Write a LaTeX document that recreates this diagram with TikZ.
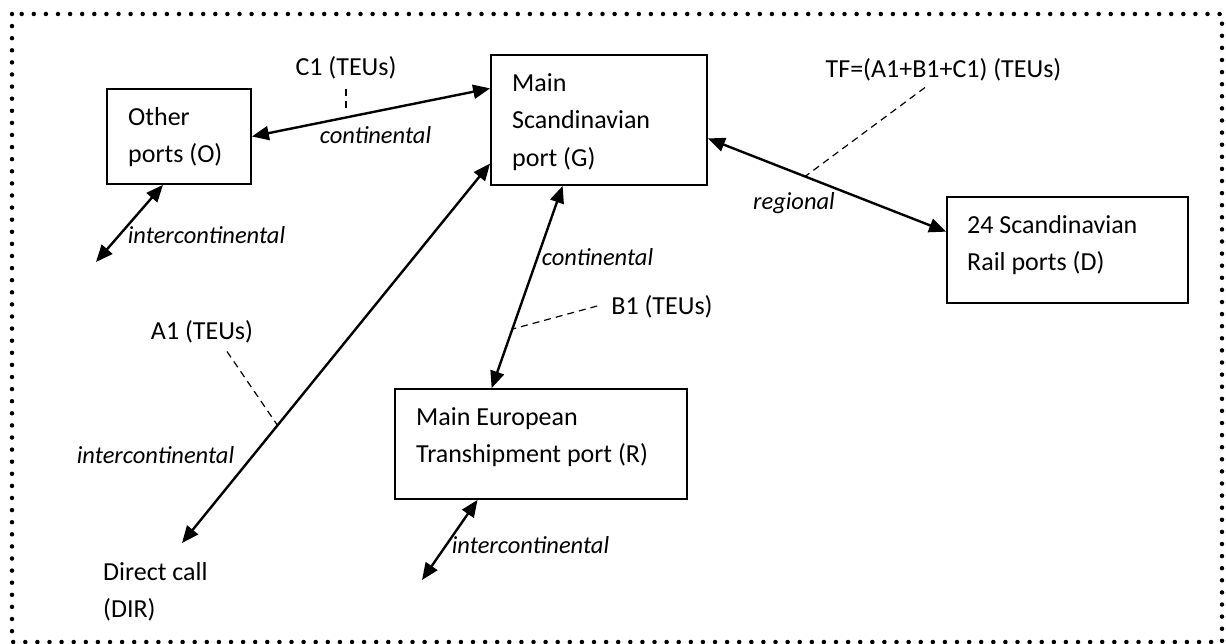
\documentclass[tikz,border=0pt]{standalone}
\usepackage{fontspec}
\setmainfont{Carlito}
\usetikzlibrary{arrows.meta,calc}
\begin{document}
\begin{tikzpicture}[x=1pt,y=-1pt,
  box/.style={draw, line width=1.8pt, inner sep=0pt},
  boxtext/.style={anchor=north west, align=left, inner sep=0pt, font=\fontsize{26}{37.5}\selectfont},
  lbl/.style={inner sep=0pt, font=\fontsize{26}{30}\selectfont},
  ital/.style={inner sep=0pt, font=\fontsize{24.5}{28}\selectfont\itshape},
  link/.style={line width=2.4pt, {Triangle[length=17pt,width=14pt]}-{Triangle[length=17pt,width=14pt]}},
  lead/.style={line width=1.2pt, dash pattern=on 7pt off 5pt},
]
\useasboundingbox (0,0) rectangle (1226,644);
% frame
\draw[line width=4.5pt, line cap=round, dash pattern=on 0pt off 12.1pt] (12,14) rectangle (1222,642);

% boxes
\node[box, minimum width=144pt, minimum height=95pt] (O) at (179,136.5) {};
\node[box, minimum width=216pt, minimum height=130pt] (G) at (599,120) {};
\node[box, minimum width=241pt, minimum height=106pt] (D) at (1067.5,250) {};
\node[box, minimum width=292pt, minimum height=110pt] (R) at (541,444) {};

\node[boxtext] (Otext) at (128,107) {Other\\ports (O)};
\node[boxtext] (Gtext) at (512,73) {Main\\Scandinavian\\port (G)};
\node[boxtext] (Dtext) at (967,215) {24 Scandinavian\\Rail ports (D)};
\node[boxtext] (Rtext) at (416,407) {Main European\\Transhipment port (R)};
\node[boxtext] (DIR) at (103,562) {Direct call\\(DIR)};

% free ends
\coordinate (dirend) at (182,543);
\coordinate (oend) at (96,262);
\coordinate (rend) at (422,580);

% connectors
\draw[link] (O.east) -- coordinate[pos=0.397] (c1p) ($(G.north west)!0.26!(G.south west)$);
\draw[link] (dirend) -- coordinate[pos=0.31] (a1p) ($(G.north west)!0.83!(G.south west)$);
\draw[link] ($(G.south west)!0.333!(G.south east)$) -- coordinate[pos=0.708] (b1p) ($(R.north west)!0.332!(R.north east)$);
\draw[link] ($(G.north east)!0.64!(G.south east)$) -- coordinate[pos=0.408] (tfp) ($(D.north west)!0.33!(D.south west)$);
\draw[link] ($(O.south west)!0.39!(O.south east)$) -- (oend);
\draw[link] ($(R.south west)!0.284!(R.south east)$) -- (rend);

% labels
\node[lbl] (C1) at (346,68) {C1 (TEUs)};
\node[lbl] (TF) at (943.5,70) {TF=(A1+B1+C1) (TEUs)};
\node[lbl] (B1) at (662,307) {B1 (TEUs)};
\node[lbl] (A1) at (202,332) {A1 (TEUs)};

\node[ital] (lc1) at (375.5,135) {continental};
\node[ital] (lo) at (206.5,235) {intercontinental};
\node[ital] (lgr) at (597.5,257) {continental};
\node[ital] (lreg) at (794,203) {regional};
\node[ital] (ldir) at (155.5,455) {intercontinental};
\node[ital] (lr) at (530.5,545) {intercontinental};

% leader lines
\draw[lead, shorten <=9pt, shorten >=7.5pt] (C1.south) -- (C1.south |- c1p);
\draw[lead] ($(TF.south)+(-18.5,6)$) -- (tfp);
\draw[lead] ($(B1.west)+(-14,-1)$) -- (b1p);
\draw[lead] ($(A1.south)+(25,8)$) -- (a1p);
\end{tikzpicture}
\end{document}
